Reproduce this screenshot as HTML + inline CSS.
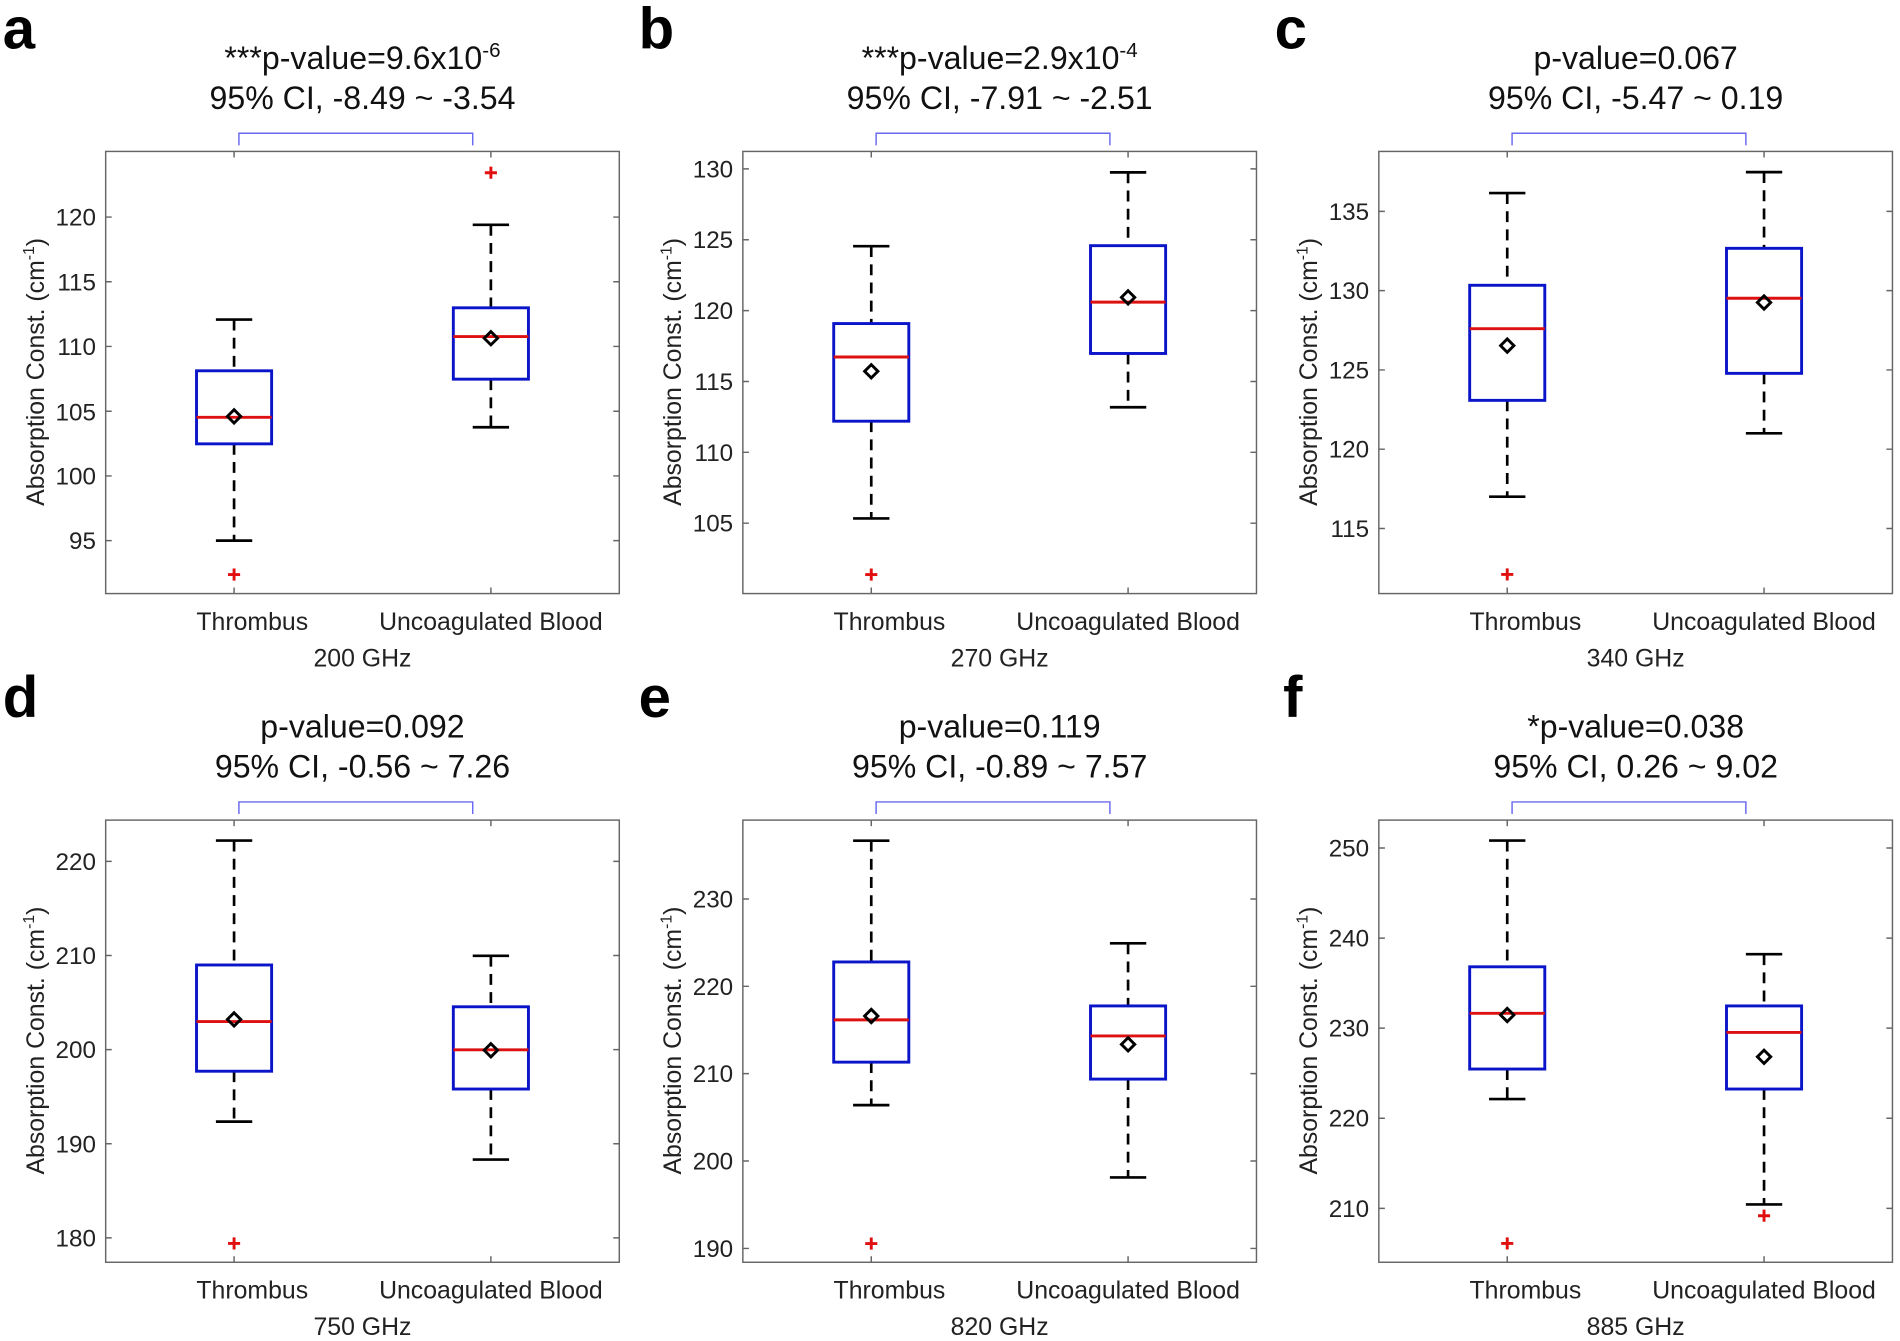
<!DOCTYPE html>
<html><head><meta charset="utf-8"><style>
html,body{margin:0;padding:0;background:#fff}
svg{display:block}
text{font-family:"Liberation Sans",Arial,sans-serif;fill:#222}
.t{font-size:26.5px;text-anchor:middle;fill:#111}
.tk{font-size:20px;text-anchor:end}
.cat{font-size:20.5px;text-anchor:middle}
.lt{font-size:48px;font-weight:bold;fill:#000}
.ax{fill:none;stroke:#666;stroke-width:1.2}
.bx{fill:none;stroke:#0a14c8;stroke-width:2.4}
.md{stroke:#dd1111;stroke-width:2.4}
.wh{stroke:#000;stroke-width:2.2;stroke-dasharray:9,6}
.cp{stroke:#000;stroke-width:2.2}
.mn{fill:none;stroke:#000;stroke-width:2.4}
.out{stroke:#e01010;stroke-width:2.4}
.br{fill:none;stroke:#6a6af0;stroke-width:1.2}
.tick{stroke:#666;stroke-width:1.2}
</style></head><body>
<svg width="1900" height="1341" viewBox="0 0 1568 1107" xmlns="http://www.w3.org/2000/svg">
<defs>
<g id="frame1">
 <rect class="ax" x="87" y="125" width="424" height="365"/>
 <line class="tick" x1="193" y1="125" x2="193" y2="130"/><line class="tick" x1="405" y1="125" x2="405" y2="130"/>
 <line class="tick" x1="193" y1="490" x2="193" y2="485"/><line class="tick" x1="405" y1="490" x2="405" y2="485"/>
 <path class="br" d="M197,120 V110 H390 V120"/>
 <text class="cat" x="208" y="520">Thrombus</text>
 <text class="cat" x="405" y="520">Uncoagulated Blood</text>
 <text transform="translate(36,307) rotate(-90)" style="font-size:20.5px;text-anchor:middle">Absorption Const. (cm<tspan dy="-8" style="font-size:13px">-1</tspan><tspan dy="8">)</tspan></text>
</g>
<g id="frame2">
 <rect class="ax" x="87" y="677" width="424" height="365"/>
 <line class="tick" x1="193" y1="677" x2="193" y2="682"/><line class="tick" x1="405" y1="677" x2="405" y2="682"/>
 <line class="tick" x1="193" y1="1042" x2="193" y2="1037"/><line class="tick" x1="405" y1="1042" x2="405" y2="1037"/>
 <path class="br" d="M197,672 V662 H390 V672"/>
 <text class="cat" x="208" y="1072">Thrombus</text>
 <text class="cat" x="405" y="1072">Uncoagulated Blood</text>
 <text transform="translate(36,859) rotate(-90)" style="font-size:20.5px;text-anchor:middle">Absorption Const. (cm<tspan dy="-8" style="font-size:13px">-1</tspan><tspan dy="8">)</tspan></text>
</g>
</defs>

<!-- Panel a -->
<g>
<use href="#frame1"/>
<text class="lt" x="2" y="40">a</text>
<text class="t" x="299" y="57">***p-value=9.6x10<tspan dy="-10" style="font-size:17px">-6</tspan></text>
<text class="t" x="299" y="90">95% CI, -8.49 ~ -3.54</text>
<text class="tk" x="79" y="186">120</text><text class="tk" x="79" y="240">115</text><text class="tk" x="79" y="293">110</text><text class="tk" x="79" y="347">105</text><text class="tk" x="79" y="400">100</text><text class="tk" x="79" y="453">95</text>
<path class="tick" d="M87,179.2h5M87,232.6h5M87,286h5M87,339.5h5M87,392.9h5M87,446.3h5M511,179.2h-5M511,232.6h-5M511,286h-5M511,339.5h-5M511,392.9h-5M511,446.3h-5"/>
<text class="cat" x="299" y="550">200 GHz</text>
<line class="wh" x1="193" y1="263.8" x2="193" y2="306.1"/><line class="wh" x1="193" y1="366.4" x2="193" y2="446.3"/>
<line class="cp" x1="178" y1="263.8" x2="208" y2="263.8"/><line class="cp" x1="178" y1="446.3" x2="208" y2="446.3"/>
<rect class="bx" x="162" y="306.1" width="62" height="60.3"/>
<line class="md" x1="162" y1="344.5" x2="224" y2="344.5"/>
<path class="mn" d="M193,338.2 L198.5,343.7 L193,349.2 L187.5,343.7Z"/>
<path class="out" d="M188,474.3h10M193,469.3v10"/>
<line class="wh" x1="405" y1="185.6" x2="405" y2="254.1"/><line class="wh" x1="405" y1="313" x2="405" y2="352.7"/>
<line class="cp" x1="390" y1="185.6" x2="420" y2="185.6"/><line class="cp" x1="390" y1="352.7" x2="420" y2="352.7"/>
<rect class="bx" x="374" y="254.1" width="62" height="58.9"/>
<line class="md" x1="374" y1="277.8" x2="436" y2="277.8"/>
<path class="mn" d="M405,273.7 L410.5,279.2 L405,284.7 L399.5,279.2Z"/>
<path class="out" d="M400,142.6h10M405,137.6v10"/>
</g>

<!-- Panel b -->
<g transform="translate(526,0)">
<use href="#frame1"/>
<text class="lt" x="1" y="40">b</text>
<text class="t" x="299" y="57">***p-value=2.9x10<tspan dy="-10" style="font-size:17px">-4</tspan></text>
<text class="t" x="299" y="90">95% CI, -7.91 ~ -2.51</text>
<text class="tk" x="79" y="146.4">130</text><text class="tk" x="79" y="204.9">125</text><text class="tk" x="79" y="263.4">120</text><text class="tk" x="79" y="321.9">115</text><text class="tk" x="79" y="380.4">110</text><text class="tk" x="79" y="438.9">105</text>
<path class="tick" d="M87,139.4h5M87,197.9h5M87,256.4h5M87,314.9h5M87,373.4h5M87,431.9h5M511,139.4h-5M511,197.9h-5M511,256.4h-5M511,314.9h-5M511,373.4h-5M511,431.9h-5"/>
<text class="cat" x="299" y="550">270 GHz</text>
<line class="wh" x1="193" y1="203.2" x2="193" y2="267.1"/><line class="wh" x1="193" y1="347.7" x2="193" y2="428"/>
<line class="cp" x1="178" y1="203.2" x2="208" y2="203.2"/><line class="cp" x1="178" y1="428" x2="208" y2="428"/>
<rect class="bx" x="162" y="267.1" width="62" height="80.6"/>
<line class="md" x1="162" y1="294.7" x2="224" y2="294.7"/>
<path class="mn" d="M193,301 L198.5,306.5 L193,312 L187.5,306.5Z"/>
<path class="out" d="M188,474.3h10M193,469.3v10"/>
<line class="wh" x1="405" y1="142.3" x2="405" y2="202.8"/><line class="wh" x1="405" y1="291.8" x2="405" y2="336.2"/>
<line class="cp" x1="390" y1="142.3" x2="420" y2="142.3"/><line class="cp" x1="390" y1="336.2" x2="420" y2="336.2"/>
<rect class="bx" x="374" y="202.8" width="62" height="89"/>
<line class="md" x1="374" y1="249.4" x2="436" y2="249.4"/>
<path class="mn" d="M405,240 L410.5,245.5 L405,251 L399.5,245.5Z"/>
</g>

<!-- Panel c -->
<g transform="translate(1051,0)">
<use href="#frame1"/>
<text class="lt" x="1" y="40">c</text>
<text class="t" x="299" y="57">p-value=0.067</text>
<text class="t" x="299" y="90">95% CI, -5.47 ~ 0.19</text>
<text class="tk" x="79" y="181.5">135</text><text class="tk" x="79" y="246.9">130</text><text class="tk" x="79" y="312.4">125</text><text class="tk" x="79" y="377.8">120</text><text class="tk" x="79" y="443.3">115</text>
<path class="tick" d="M87,174.5h5M87,239.9h5M87,305.4h5M87,370.8h5M87,436.3h5M511,174.5h-5M511,239.9h-5M511,305.4h-5M511,370.8h-5M511,436.3h-5"/>
<text class="cat" x="299" y="550">340 GHz</text>
<line class="wh" x1="193" y1="159.4" x2="193" y2="235.5"/><line class="wh" x1="193" y1="330.5" x2="193" y2="410"/>
<line class="cp" x1="178" y1="159.4" x2="208" y2="159.4"/><line class="cp" x1="178" y1="410" x2="208" y2="410"/>
<rect class="bx" x="162" y="235.5" width="62" height="95"/>
<line class="md" x1="162" y1="271.3" x2="224" y2="271.3"/>
<path class="mn" d="M193,279.8 L198.5,285.3 L193,290.8 L187.5,285.3Z"/>
<path class="out" d="M188,474.2h10M193,469.2v10"/>
<line class="wh" x1="405" y1="142.1" x2="405" y2="205"/><line class="wh" x1="405" y1="308.2" x2="405" y2="357.7"/>
<line class="cp" x1="390" y1="142.1" x2="420" y2="142.1"/><line class="cp" x1="390" y1="357.7" x2="420" y2="357.7"/>
<rect class="bx" x="374" y="205" width="62" height="103.2"/>
<line class="md" x1="374" y1="246.2" x2="436" y2="246.2"/>
<path class="mn" d="M405,244.2 L410.5,249.7 L405,255.2 L399.5,249.7Z"/>
</g>

<!-- Panel d -->
<g>
<use href="#frame2"/>
<text class="lt" x="2" y="592">d</text>
<text class="t" x="299" y="609">p-value=0.092</text>
<text class="t" x="299" y="642">95% CI, -0.56 ~ 7.26</text>
<text class="tk" x="79" y="718.1">220</text><text class="tk" x="79" y="795.8">210</text><text class="tk" x="79" y="873.5">200</text><text class="tk" x="79" y="951.2">190</text><text class="tk" x="79" y="1028.9">180</text>
<path class="tick" d="M87,711.1h5M87,788.8h5M87,866.5h5M87,944.2h5M87,1021.9h5M511,711.1h-5M511,788.8h-5M511,866.5h-5M511,944.2h-5M511,1021.9h-5"/>
<text class="cat" x="299" y="1102">750 GHz</text>
<line class="wh" x1="193" y1="693.9" x2="193" y2="796.6"/><line class="wh" x1="193" y1="884.3" x2="193" y2="925.9"/>
<line class="cp" x1="178" y1="693.9" x2="208" y2="693.9"/><line class="cp" x1="178" y1="925.9" x2="208" y2="925.9"/>
<rect class="bx" x="162" y="796.6" width="62" height="87.7"/>
<line class="md" x1="162" y1="843.3" x2="224" y2="843.3"/>
<path class="mn" d="M193,836 L198.5,841.5 L193,847 L187.5,841.5Z"/>
<path class="out" d="M188,1026.5h10M193,1021.5v10"/>
<line class="wh" x1="405" y1="789" x2="405" y2="831.1"/><line class="wh" x1="405" y1="899" x2="405" y2="957.2"/>
<line class="cp" x1="390" y1="789" x2="420" y2="789"/><line class="cp" x1="390" y1="957.2" x2="420" y2="957.2"/>
<rect class="bx" x="374" y="831.1" width="62" height="67.9"/>
<line class="md" x1="374" y1="866.6" x2="436" y2="866.6"/>
<path class="mn" d="M405,861.5 L410.5,867 L405,872.5 L399.5,867Z"/>
</g>

<!-- Panel e -->
<g transform="translate(526,0)">
<use href="#frame2"/>
<text class="lt" x="1" y="592">e</text>
<text class="t" x="299" y="609">p-value=0.119</text>
<text class="t" x="299" y="642">95% CI, -0.89 ~ 7.57</text>
<text class="tk" x="79" y="749.1">230</text><text class="tk" x="79" y="821.2">220</text><text class="tk" x="79" y="893.3">210</text><text class="tk" x="79" y="965.4">200</text><text class="tk" x="79" y="1037.6">190</text>
<path class="tick" d="M87,742.1h5M87,814.2h5M87,886.3h5M87,958.4h5M87,1030.6h5M511,742.1h-5M511,814.2h-5M511,886.3h-5M511,958.4h-5M511,1030.6h-5"/>
<text class="cat" x="299" y="1102">820 GHz</text>
<line class="wh" x1="193" y1="694" x2="193" y2="794.1"/><line class="wh" x1="193" y1="876.8" x2="193" y2="912.3"/>
<line class="cp" x1="178" y1="694" x2="208" y2="694"/><line class="cp" x1="178" y1="912.3" x2="208" y2="912.3"/>
<rect class="bx" x="162" y="794.1" width="62" height="82.7"/>
<line class="md" x1="162" y1="841.9" x2="224" y2="841.9"/>
<path class="mn" d="M193,833.2 L198.5,838.7 L193,844.2 L187.5,838.7Z"/>
<path class="out" d="M188,1026.6h10M193,1021.6v10"/>
<line class="wh" x1="405" y1="778.7" x2="405" y2="830.4"/><line class="wh" x1="405" y1="890.8" x2="405" y2="972"/>
<line class="cp" x1="390" y1="778.7" x2="420" y2="778.7"/><line class="cp" x1="390" y1="972" x2="420" y2="972"/>
<rect class="bx" x="374" y="830.4" width="62" height="60.4"/>
<line class="md" x1="374" y1="855.2" x2="436" y2="855.2"/>
<path class="mn" d="M405,856.6 L410.5,862.1 L405,867.6 L399.5,862.1Z"/>
</g>

<!-- Panel f -->
<g transform="translate(1051,0)">
<use href="#frame2"/>
<text class="lt" x="8" y="592">f</text>
<text class="t" x="299" y="609">*p-value=0.038</text>
<text class="t" x="299" y="642">95% CI, 0.26 ~ 9.02</text>
<text class="tk" x="79" y="707">250</text><text class="tk" x="79" y="781.4">240</text><text class="tk" x="79" y="855.7">230</text><text class="tk" x="79" y="930.1">220</text><text class="tk" x="79" y="1004.5">210</text>
<path class="tick" d="M87,700h5M87,774.4h5M87,848.7h5M87,923.1h5M87,997.5h5M511,700h-5M511,774.4h-5M511,848.7h-5M511,923.1h-5M511,997.5h-5"/>
<text class="cat" x="299" y="1102">885 GHz</text>
<line class="wh" x1="193" y1="693.9" x2="193" y2="798.1"/><line class="wh" x1="193" y1="882.5" x2="193" y2="907.3"/>
<line class="cp" x1="178" y1="693.9" x2="208" y2="693.9"/><line class="cp" x1="178" y1="907.3" x2="208" y2="907.3"/>
<rect class="bx" x="162" y="798.1" width="62" height="84.4"/>
<line class="md" x1="162" y1="836.5" x2="224" y2="836.5"/>
<path class="mn" d="M193,832.4 L198.5,837.9 L193,843.4 L187.5,837.9Z"/>
<path class="out" d="M188,1026.5h10M193,1021.5v10"/>
<line class="wh" x1="405" y1="787.7" x2="405" y2="830.4"/><line class="wh" x1="405" y1="899" x2="405" y2="994.3"/>
<line class="cp" x1="390" y1="787.7" x2="420" y2="787.7"/><line class="cp" x1="390" y1="994.3" x2="420" y2="994.3"/>
<rect class="bx" x="374" y="830.4" width="62" height="68.6"/>
<line class="md" x1="374" y1="852.3" x2="436" y2="852.3"/>
<path class="mn" d="M405,866.9 L410.5,872.4 L405,877.9 L399.5,872.4Z"/>
<path class="out" d="M400,1003.6h10M405,998.6v10"/>
</g>
</svg>
</body></html>
